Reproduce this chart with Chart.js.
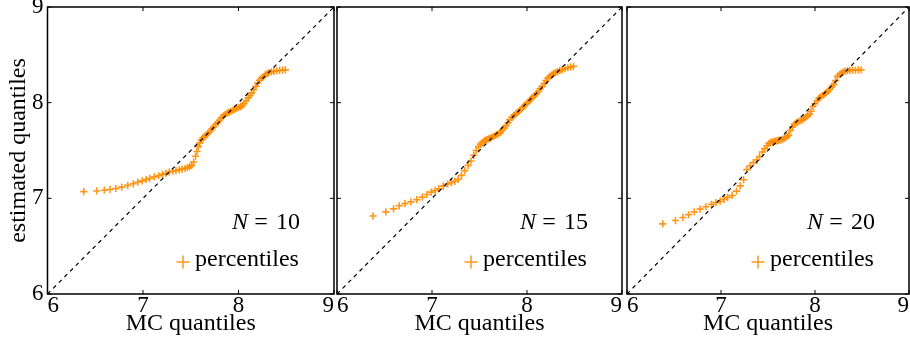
<!DOCTYPE html>
<html>
<head>
<meta charset="utf-8">
<script src="https://cdn.jsdelivr.net/npm/chart.js@4.4.1/dist/chart.umd.min.js"></script>
<style>
  body { margin: 0; background: #fff; }
  canvas { position: absolute; top: 0; }
</style>
</head>
<body>
<canvas id="p10" width="336" height="344" style="left:0px"></canvas>
<canvas id="p15" width="288" height="344" style="left:336px"></canvas>
<canvas id="p20" width="286" height="344" style="left:624px"></canvas>
<script>
// MC quantiles (shared x for the three panels)
const mcQuantiles = [6.38, 6.515, 6.595, 6.655, 6.715, 6.778, 6.84, 6.898, 6.947, 6.992,
  7.033, 7.07, 7.118, 7.165, 7.205, 7.24, 7.275, 7.31, 7.345, 7.38,
  7.41, 7.44, 7.465, 7.49, 7.51, 7.53, 7.55, 7.565, 7.58, 7.595, 7.61, 7.625,
  7.645, 7.662, 7.68, 7.703, 7.72, 7.738, 7.76, 7.781, 7.80, 7.818, 7.84, 7.861,
  7.88, 7.898, 7.92, 7.942, 7.96, 7.979, 8.0, 8.022, 8.04, 8.058, 8.08, 8.101,
  8.12, 8.138, 8.16, 8.182, 8.2, 8.219, 8.24, 8.262, 8.28, 8.30,
  8.32, 8.345, 8.37, 8.40, 8.43, 8.46, 8.49];

// estimated quantiles
const estN10 = [7.07, 7.077, 7.085, 7.093, 7.103, 7.117, 7.135, 7.152, 7.17, 7.183,
  7.197, 7.208, 7.224, 7.236, 7.25, 7.262, 7.275, 7.283, 7.29, 7.298,
  7.305, 7.312, 7.32, 7.33, 7.345, 7.38, 7.44, 7.49, 7.54, 7.58, 7.61, 7.63,
  7.645, 7.66, 7.68, 7.70, 7.725, 7.745, 7.77, 7.79, 7.815, 7.84, 7.86, 7.875,
  7.89, 7.90, 7.91, 7.92, 7.93, 7.94, 7.95, 7.958, 7.97, 7.99, 8.02, 8.05,
  8.075, 8.10, 8.135, 8.17, 8.205, 8.235, 8.255, 8.27, 8.29, 8.305,
  8.315, 8.322, 8.328, 8.333, 8.337, 8.34, 8.343];

const estN15 = [6.815, 6.858, 6.89, 6.922, 6.945, 6.963, 6.987, 7.013, 7.04, 7.065,
  7.083, 7.1, 7.128, 7.15, 7.165, 7.178, 7.198, 7.24, 7.29, 7.345,
  7.39, 7.45, 7.50, 7.54, 7.565, 7.585, 7.60, 7.608, 7.615, 7.622, 7.628, 7.635,
  7.645, 7.655, 7.665, 7.675, 7.69, 7.71, 7.735, 7.76, 7.79, 7.82, 7.845, 7.865,
  7.88, 7.895, 7.915, 7.935, 7.955, 7.975, 7.995, 8.015, 8.035, 8.055, 8.075, 8.095,
  8.12, 8.145, 8.17, 8.20, 8.23, 8.255, 8.275, 8.29, 8.305, 8.315,
  8.325, 8.335, 8.345, 8.355, 8.365, 8.372, 8.38];

const estN20 = [6.733, 6.768, 6.80, 6.83, 6.858, 6.887, 6.912, 6.938, 6.955, 6.97,
  6.99, 7.01, 7.03, 7.075, 7.13, 7.195, 7.30, 7.34, 7.373, 7.40,
  7.438, 7.485, 7.52, 7.55, 7.575, 7.585, 7.59, 7.595, 7.598, 7.60, 7.605, 7.608,
  7.612, 7.62, 7.63, 7.645, 7.66, 7.71, 7.745, 7.775, 7.79, 7.80, 7.81, 7.818,
  7.83, 7.845, 7.862, 7.88, 7.91, 7.96, 7.99, 8.02, 8.045, 8.06, 8.075, 8.09,
  8.105, 8.12, 8.14, 8.17, 8.19, 8.23, 8.275, 8.295, 8.31, 8.32,
  8.33, 8.335, 8.338, 8.34, 8.341, 8.342, 8.343];

const diagX = [6, 9];
const diagY = [6, 9];
const axisTicks = [6, 7, 8, 9];

const orange = 'rgba(255,140,0,0.9)';
Chart.defaults.font.family = "'Liberation Serif', serif";
Chart.defaults.color = '#000';

// frame, inward ticks, N label and legend inside the axes
const frameAndNotes = {
  id: 'frameAndNotes',
  afterDraw(chart, args, opts) {
    const { ctx, chartArea: a, scales } = chart;
    ctx.save();
    ctx.strokeStyle = '#000';
    ctx.lineWidth = 1;
    ctx.beginPath();
    scales.x.ticks.forEach(t => {
      const px = scales.x.getPixelForValue(t.value);
      ctx.moveTo(px, a.bottom); ctx.lineTo(px, a.bottom - 4);
      ctx.moveTo(px, a.top); ctx.lineTo(px, a.top + 4);
    });
    scales.y.ticks.forEach(t => {
      const py = scales.y.getPixelForValue(t.value);
      ctx.moveTo(a.left, py); ctx.lineTo(a.left + 4, py);
      ctx.moveTo(a.right, py); ctx.lineTo(a.right - 4, py);
    });
    ctx.stroke();
    ctx.lineWidth = 1.5;
    ctx.strokeRect(a.left, a.top, a.right - a.left, a.bottom - a.top);

    // N = ..
    const R = a.right;
    ctx.fillStyle = '#000';
    ctx.textBaseline = 'alphabetic';
    ctx.font = "24px 'Liberation Serif'";
    ctx.textAlign = 'right';
    ctx.fillText(opts.n, R - 34, a.top + 222);
    ctx.textAlign = 'center';
    ctx.fillText('=', R - 73, a.top + 222);
    ctx.font = "italic 24px 'Liberation Serif'";
    ctx.textAlign = 'right';
    ctx.fillText('N', R - 86, a.top + 222);

    // legend
    ctx.font = "24px 'Liberation Serif'";
    ctx.textAlign = 'left';
    ctx.fillText('percentiles', R - 139, a.top + 259);
    const mx = R - 151, my = a.top + 255;
    ctx.strokeStyle = orange;
    ctx.lineWidth = 1.5;
    ctx.beginPath();
    ctx.moveTo(mx - 6.5, my); ctx.lineTo(mx + 6.5, my);
    ctx.moveTo(mx, my - 6.5); ctx.lineTo(mx, my + 6.5);
    ctx.stroke();
    ctx.restore();
  }
};

function makePanel(id, est, n, first, yWidth, padRight) {
  const pts = mcQuantiles.map((x, i) => ({ x: x, y: est[i] }));
  const diag = diagX.map((x, i) => ({ x: x, y: diagY[i] }));
  new Chart(document.getElementById(id), {
    type: 'scatter',
    data: {
      datasets: [
        {
          type: 'line', data: diag, borderColor: '#000', borderWidth: 1.2,
          borderDash: [4, 4], pointRadius: 0, fill: false, order: 0
        },
        {
          data: pts, pointStyle: 'cross', pointRadius: 3.6, borderColor: orange,
          backgroundColor: orange, borderWidth: 1.6, order: 1
        }
      ]
    },
    options: {
      responsive: false,
      animation: false,
      layout: { autoPadding: false, padding: { top: 7, right: padRight, left: 0, bottom: 0 } },
      plugins: { legend: { display: false }, tooltip: { enabled: false }, frameAndNotes: { n: n } },
      scales: {
        x: {
          type: 'linear', min: 6, max: 9,
          afterBuildTicks: s => { s.ticks = axisTicks.map(v => ({ value: v })); },
          ticks: { align: 'inner', padding: -2, font: { size: 23 }, maxRotation: 0, autoSkip: false },
          grid: { display: false, drawTicks: false },
          border: { display: false },
          title: { display: true, text: 'MC quantiles', font: { size: 24 }, padding: { top: 0, bottom: 6 } },
          afterFit: s => { s.height = 50; s.paddingLeft = 0; s.paddingRight = 0; }
        },
        y: {
          type: 'linear', min: 6, max: 9,
          afterBuildTicks: s => { s.ticks = axisTicks.map(v => ({ value: v })); },
          ticks: { display: first, padding: 4, font: { size: 23 } },
          grid: { display: false, drawTicks: false },
          border: { display: false },
          title: { display: first, text: 'estimated quantiles', font: { size: 24 }, padding: { top: 4, bottom: 0 } },
          afterFit: s => { s.width = yWidth; s.paddingTop = 0; s.paddingBottom = 0; }
        }
      }
    },
    plugins: [frameAndNotes]
  });
}

makePanel('p10', estN10, '10', true, 47.5, 2);
makePanel('p15', estN15, '15', false, 1, 2);
makePanel('p20', estN20, '20', false, 3, 1);
</script>
</body>
</html>
